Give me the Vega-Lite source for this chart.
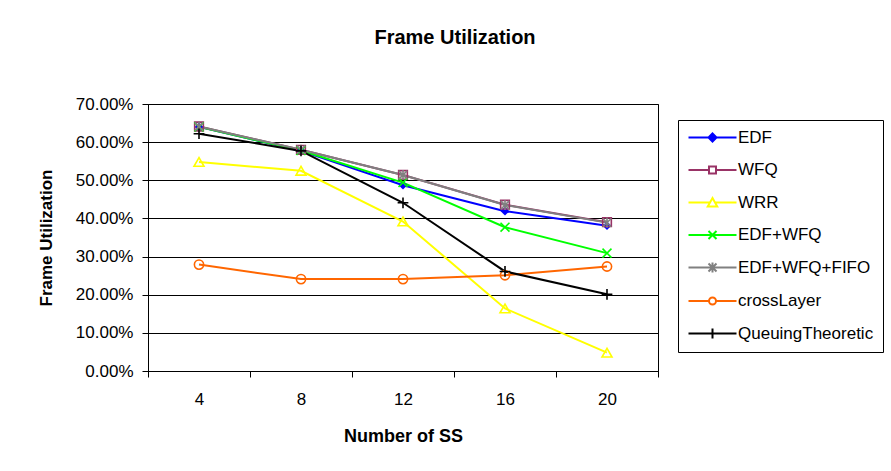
{
  "$schema": "https://vega.github.io/schema/vega-lite/v6.json",
  "width": 510,
  "height": 267,
  "autosize": "none",
  "padding": {"left": 148, "top": 104, "right": 233, "bottom": 100},
  "background": "white",
  "title": {
    "text": "Frame Utilization",
    "font": "Liberation Sans",
    "fontSize": 20,
    "fontWeight": "bold",
    "color": "black",
    "anchor": "middle",
    "dx": 52,
    "offset": 47
  },
  "data": {
    "values": [
      {"ss": 4, "series": "EDF", "value": 0.640},
      {"ss": 8, "series": "EDF", "value": 0.577},
      {"ss": 12, "series": "EDF", "value": 0.487},
      {"ss": 16, "series": "EDF", "value": 0.419},
      {"ss": 20, "series": "EDF", "value": 0.381},
      {"ss": 4, "series": "WFQ", "value": 0.641},
      {"ss": 8, "series": "WFQ", "value": 0.580},
      {"ss": 12, "series": "WFQ", "value": 0.514},
      {"ss": 16, "series": "WFQ", "value": 0.436},
      {"ss": 20, "series": "WFQ", "value": 0.390},
      {"ss": 4, "series": "WRR", "value": 0.548},
      {"ss": 8, "series": "WRR", "value": 0.525},
      {"ss": 12, "series": "WRR", "value": 0.392},
      {"ss": 16, "series": "WRR", "value": 0.164},
      {"ss": 20, "series": "WRR", "value": 0.048},
      {"ss": 4, "series": "EDF+WFQ", "value": 0.640},
      {"ss": 8, "series": "EDF+WFQ", "value": 0.578},
      {"ss": 12, "series": "EDF+WFQ", "value": 0.494},
      {"ss": 16, "series": "EDF+WFQ", "value": 0.377},
      {"ss": 20, "series": "EDF+WFQ", "value": 0.309},
      {"ss": 4, "series": "EDF+WFQ+FIFO", "value": 0.641},
      {"ss": 8, "series": "EDF+WFQ+FIFO", "value": 0.580},
      {"ss": 12, "series": "EDF+WFQ+FIFO", "value": 0.514},
      {"ss": 16, "series": "EDF+WFQ+FIFO", "value": 0.435},
      {"ss": 20, "series": "EDF+WFQ+FIFO", "value": 0.389},
      {"ss": 4, "series": "crossLayer", "value": 0.279},
      {"ss": 8, "series": "crossLayer", "value": 0.241},
      {"ss": 12, "series": "crossLayer", "value": 0.241},
      {"ss": 16, "series": "crossLayer", "value": 0.251},
      {"ss": 20, "series": "crossLayer", "value": 0.274},
      {"ss": 4, "series": "QueuingTheoretic", "value": 0.622},
      {"ss": 8, "series": "QueuingTheoretic", "value": 0.577},
      {"ss": 12, "series": "QueuingTheoretic", "value": 0.441},
      {"ss": 16, "series": "QueuingTheoretic", "value": 0.261},
      {"ss": 20, "series": "QueuingTheoretic", "value": 0.201}
    ]
  },
  "encoding": {
    "x": {
      "field": "ss",
      "type": "ordinal",
      "bandPosition": 0.5,
      "scale": {"type": "band", "paddingInner": 0, "paddingOuter": 0},
      "axis": {
        "title": "Number of SS",
        "labelAngle": 0,
        "tickBand": "extent",
        "tickSize": 6,
        "labelFontSize": 17,
        "labelPadding": 14,
        "titleFontSize": 18,
        "titleFontWeight": "bold",
        "titlePadding": 20,
        "grid": false
      }
    },
    "y": {
      "field": "value",
      "type": "quantitative",
      "scale": {"domain": [0, 0.7]},
      "axis": {
        "title": "Frame Utilization",
        "format": ".2%",
        "values": [0, 0.1, 0.2, 0.3, 0.4, 0.5, 0.6, 0.7],
        "tickSize": 6,
        "labelFontSize": 17,
        "labelPadding": 9,
        "titleFontSize": 17,
        "titleFontWeight": "bold",
        "titlePadding": 20,
        "grid": true,
        "gridColor": "black",
        "gridWidth": 1
      }
    },
    "color": {
      "field": "series",
      "type": "nominal",
      "scale": {
        "domain": ["EDF", "WFQ", "WRR", "EDF+WFQ", "EDF+WFQ+FIFO", "crossLayer", "QueuingTheoretic"],
        "range": ["#0000ff", "#993366", "#ffff00", "#00ff00", "#808080", "#ff6600", "#000000"]
      },
      "legend": {
        "title": null,
        "orient": "none",
        "legendX": 530,
        "legendY": 16,
        "strokeColor": "black",
        "fillColor": "white",
        "padding": 9,
        "labelFont": "Liberation Sans",
        "labelFontSize": 17,
        "labelColor": "black",
        "labelLimit": 300,
        "rowPadding": 14.5,
        "symbolSize": 100,
        "symbolOffset": 17,
        "labelOffset": 17,
        "symbolStrokeWidth": 2,
        "symbolOpacity": 1
      }
    }
  },
  "layer": [
    {
      "mark": {"type": "line", "strokeWidth": 2}
    },
    {
      "transform": [{"filter": "datum.series === 'EDF'"}],
      "mark": {"type": "point", "shape": "diamond", "filled": true, "size": 75, "opacity": 1},
      "encoding": {"color": {"value": "#0000ff"}}
    },
    {
      "transform": [{"filter": "datum.series === 'WFQ'"}],
      "mark": {"type": "point", "shape": "square", "filled": false, "size": 75, "strokeWidth": 1.6, "opacity": 1}
    },
    {
      "transform": [{"filter": "datum.series === 'WRR'"}],
      "mark": {"type": "point", "shape": "triangle-up", "filled": false, "size": 100, "strokeWidth": 1.6, "opacity": 1}
    },
    {
      "transform": [{"filter": "datum.series === 'EDF+WFQ'"}],
      "mark": {"type": "point", "shape": "M-1,-1L1,1M-1,1L1,-1", "filled": false, "size": 80, "strokeWidth": 1.6, "opacity": 1}
    },
    {
      "transform": [{"filter": "datum.series === 'EDF+WFQ+FIFO'"}],
      "mark": {"type": "point", "shape": "M-1,-1L1,1M-1,1L1,-1M0,-1.2L0,1.2", "filled": false, "size": 70, "strokeWidth": 1.6, "opacity": 1}
    },
    {
      "transform": [{"filter": "datum.series === 'crossLayer'"}],
      "mark": {"type": "point", "shape": "circle", "filled": false, "size": 85, "strokeWidth": 1.6, "opacity": 1}
    },
    {
      "transform": [{"filter": "datum.series === 'QueuingTheoretic'"}],
      "mark": {"type": "point", "shape": "M0,-1.2L0,1.2M-1.2,0L1.2,0", "filled": false, "size": 80, "strokeWidth": 1.6, "opacity": 1}
    },
    {
      "mark": {"type": "point", "filled": false, "size": 100, "strokeWidth": 2, "opacity": 0},
      "encoding": {
        "shape": {
          "field": "series",
          "type": "nominal",
          "scale": {
            "domain": ["EDF", "WFQ", "WRR", "EDF+WFQ", "EDF+WFQ+FIFO", "crossLayer", "QueuingTheoretic"],
            "range": [
              "M-4.8,0L4.8,0M0,-0.8L0.8,0L0,0.8L-0.8,0Z",
              "M-4.8,0L-0.7,0M0.7,0L4.8,0M-0.7,-0.7L0.7,-0.7L0.7,0.7L-0.7,0.7Z",
              "M-4.8,0L-0.45,0M0.45,0L4.8,0M0,-0.9L0.95,0.8L-0.95,0.8Z",
              "M-4.8,0L4.8,0M-0.8,-0.8L0.8,0.8M-0.8,0.8L0.8,-0.8",
              "M-4.8,0L4.8,0M-0.8,-0.8L0.8,0.8M-0.8,0.8L0.8,-0.8M0,-1L0,1",
              "M-4.8,0L-0.7,0M0.7,0L4.8,0M-0.7,0A0.7,0.7,0,1,1,0.7,0A0.7,0.7,0,1,1,-0.7,0Z",
              "M-4.8,0L4.8,0M0,-1L0,1"
            ]
          }
        },
        "fill": {
          "field": "series",
          "type": "nominal",
          "scale": {
            "domain": ["EDF", "WFQ", "WRR", "EDF+WFQ", "EDF+WFQ+FIFO", "crossLayer", "QueuingTheoretic"],
            "range": ["#0000ff", "transparent", "transparent", "transparent", "transparent", "transparent", "transparent"]
          },
          "legend": null
        }
      }
    }
  ],
  "config": {
    "font": "Liberation Sans",
    "view": {"stroke": "black", "strokeWidth": 1},
    "axis": {
      "labelColor": "black",
      "titleColor": "black",
      "domainColor": "black",
      "tickColor": "black",
      "labelFont": "Liberation Sans",
      "titleFont": "Liberation Sans"
    }
  }
}
